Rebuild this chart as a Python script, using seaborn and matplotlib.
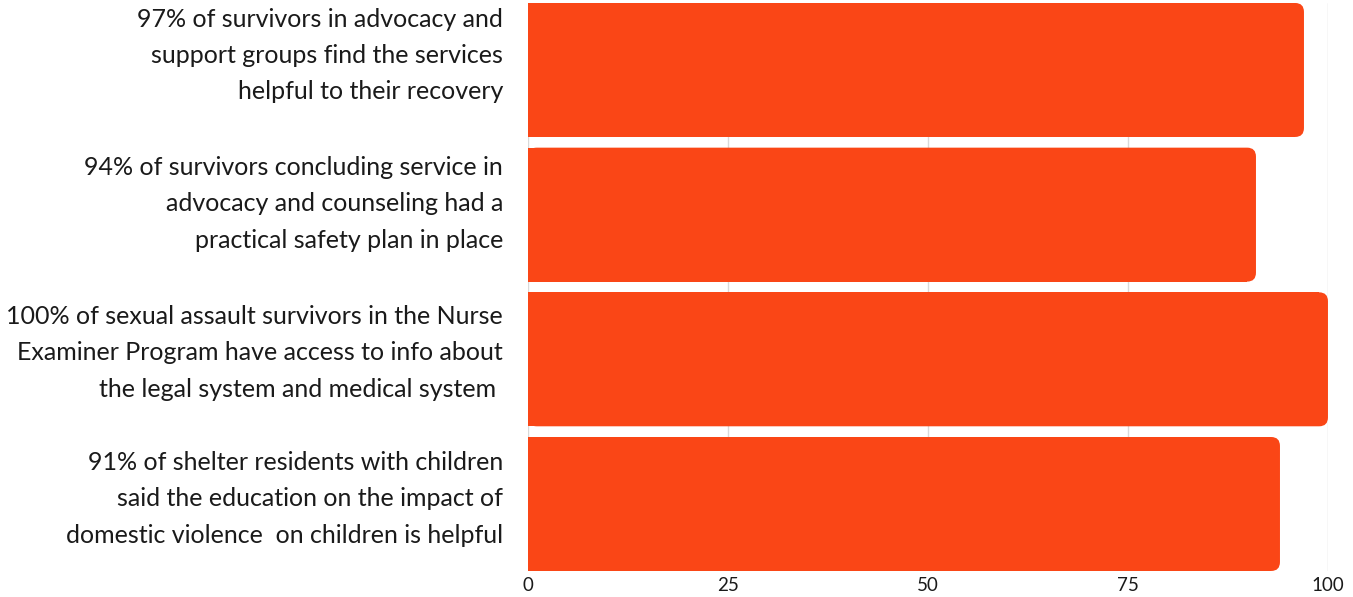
#!/usr/bin/env python3
"""Survivor outcome measures as horizontal bars."""

import matplotlib as mpl
import matplotlib.pyplot as plt
from matplotlib.patches import FancyBboxPatch, Rectangle
import pandas as pd
import seaborn as sns

LABELS = [
    "97% of survivors in advocacy and\nsupport groups find the services\nhelpful to their recovery",
    "94% of survivors concluding service in\nadvocacy and counseling had a\npractical safety plan in place",
    "100% of sexual assault survivors in the Nurse\nExaminer Program have access to info about\nthe legal system and medical system ",
    "91% of shelter residents with children\nsaid the education on the impact of\ndomestic violence  on children is helpful",
]
VALUES = [97, 91, 100, 94]
X_TICKS = [0, 25, 50, 75, 100]

BAR_COLOR = "#FA4616"
INK = "#1a1a1a"
GRID = "#d9d9d9"

# labels sit a little above their bar centres in the original
LABEL_LIFT = [0.16, 0.135, 0.105, 0.095]


def round_right_ends(ax, color, radius=1.1, aspect=0.056):
    # swap plain bars for ones with rounded right corners
    for bar in list(ax.patches):
        x, y = bar.get_x(), bar.get_y()
        w, h = bar.get_width(), bar.get_height()
        bar.remove()
        ax.add_patch(FancyBboxPatch(
            (x, y), w, h,
            boxstyle=f"round,pad=0,rounding_size={radius}",
            mutation_aspect=aspect, fc=color, ec="none", zorder=2,
        ))
        ax.add_patch(Rectangle((x, y), w - radius, h, fc=color, ec="none", zorder=2))


def main():
    sns.set_style("white")
    mpl.rcParams["font.family"] = ["Lato", "DejaVu Sans"]

    df = pd.DataFrame({"label": LABELS, "value": VALUES})

    fig = plt.figure(figsize=(13.53, 5.97), dpi=100)
    ax = fig.add_axes([0.3902, 0.0436, 0.5913, 0.9514])

    sns.barplot(data=df, x="value", y="label", color=BAR_COLOR, saturation=1,
                width=0.926, orient="h", ax=ax)
    round_right_ends(ax, BAR_COLOR)

    ax.set_xlim(0, 100)
    ax.set_ylim(3.463, -0.463)
    ax.set_xticks(X_TICKS)
    ax.set_yticks([i - d for i, d in enumerate(LABEL_LIFT)], LABELS)
    ax.set_xlabel("")
    ax.set_ylabel("")
    ax.grid(axis="x", color=GRID, linewidth=1.0, zorder=0)
    ax.set_axisbelow(True)
    for s in ax.spines.values():
        s.set_visible(False)

    ax.tick_params(axis="x", length=0, pad=4, labelsize=13.5, labelcolor=INK)
    ax.tick_params(axis="y", length=0, pad=18, labelsize=18, labelcolor=INK)
    for t in ax.get_yticklabels():
        t.set_linespacing(1.7)
        t.set_ha("right")

    fig.savefig("out.png", dpi=100)


if __name__ == "__main__":
    main()
